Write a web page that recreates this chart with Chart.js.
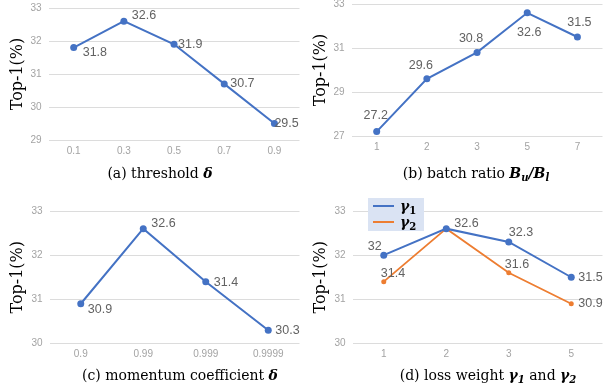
<!DOCTYPE html>
<html><head><meta charset="utf-8">
<script src="https://cdn.jsdelivr.net/npm/chart.js@4"></script>
<style>
html,body{margin:0;padding:0;background:#fff;}
#wrap{position:relative;width:606px;height:385px;overflow:hidden;background:#fff;}
canvas{position:absolute;}
.cap{position:absolute;font-family:"DejaVu Serif";font-size:14px;color:#000;white-space:nowrap;transform:translate(-50%,-50%);line-height:1;}
.m{font-weight:bold;font-style:italic;}
.m sub{font-size:0.72em;vertical-align:-0.3em;line-height:0;}
.legend{position:absolute;left:368px;top:198px;width:56px;height:33px;background:#dae3f3;}
.lrow{position:absolute;left:5px;height:16px;font-family:"DejaVu Serif";font-size:14px;font-weight:bold;font-style:italic;line-height:16px;}
.lrow i{position:absolute;left:0;top:7px;width:21px;height:2px;}
.lrow span{position:absolute;left:27px;top:0;}
.lrow sub{font-size:0.72em;vertical-align:-0.3em;line-height:0;font-style:normal;}
</style></head>
<body><div id="wrap">
<div class="cap" style="left:160px;top:173px">(a) threshold <span class="m">δ</span></div>
<div class="cap" style="left:476px;top:173px">(b) batch ratio <span class="m">B<sub>u</sub>/B<sub>l</sub></span></div>
<div class="cap" style="left:180px;top:375px">(c) momentum coefficient <span class="m">δ</span></div>
<div class="cap" style="left:488px;top:375px">(d) loss weight <span class="m">γ<sub>1</sub></span> and <span class="m">γ<sub>2</sub></span></div>
</div>
<script>
// ---- data ----
const catsA = ['0.1','0.3','0.5','0.7','0.9'];
const valsA = [31.8, 32.6, 31.9, 30.7, 29.5];
const yTicksA = [29, 30, 31, 32, 33];

const catsB = ['1','2','3','5','7'];
const valsB = [27.2, 29.6, 30.8, 32.6, 31.5];
const yTicksB = [27, 29, 31, 33];

const catsC = ['0.9','0.99','0.999','0.9999'];
const valsC = [30.9, 32.6, 31.4, 30.3];
const yTicksC = [30, 31, 32, 33];

const catsD = ['1','2','3','5'];
const valsGamma1 = [32, 32.6, 32.3, 31.5];
const valsGamma2 = [31.4, 32.6, 31.6, 30.9];
const yTicksD = [30, 31, 32, 33];
const seriesNamesD = ['γ1', 'γ2'];
const yTitle = 'Top-1(%)';

// ---- style ----
const BLUE = '#4472C4', ORANGE = '#ED7D31';
const TICK_COLOR = '#a3a3a3';
const wrap = document.getElementById('wrap');

const labelPlugin = {
  id: 'vlabels',
  afterDatasetsDraw(chart) {
    const ctx = chart.ctx;
    chart.data.datasets.forEach((ds, di) => {
      const offs = ds.labelOffsets; if (!offs) return;
      const meta = chart.getDatasetMeta(di);
      ctx.save();
      ctx.font = '12.5px "Liberation Sans"';
      ctx.fillStyle = '#626262';
      ctx.textBaseline = 'middle';
      meta.data.forEach((pt, i) => {
        const o = offs[i]; if (!o) return;
        ctx.textAlign = o[2] || 'left';
        ctx.fillText(String(ds.data[i]), pt.x + o[0], pt.y + o[1]);
      });
      ctx.restore();
    });
  }
};

function lineDs(label, data, color, r, w, offs) {
  return {label, data, borderColor: color, backgroundColor: color, borderWidth: w,
    pointRadius: r, pointHoverRadius: r, pointBorderWidth: 0, tension: 0, fill: false, labelOffsets: offs};
}

function makeChart(cfg) {
  const [bx, by, bw, bh] = cfg.box;
  const [l, t, r, b] = cfg.area;
  const cv = document.createElement('canvas');
  cv.width = bw; cv.height = bh;
  cv.style.left = bx + 'px'; cv.style.top = by + 'px';
  cv.style.width = bw + 'px'; cv.style.height = bh + 'px';
  wrap.insertBefore(cv, wrap.firstChild);
  const yt = cfg.yTicks;
  new Chart(cv, {
    type: 'line',
    data: {labels: cfg.cats, datasets: cfg.datasets},
    options: {
      responsive: false, animation: false, devicePixelRatio: 1,
      layout: {padding: {top: t - by, left: 0, right: bx + bw - r, bottom: 0}},
      plugins: {legend: {display: false}, tooltip: {enabled: false}},
      scales: {
        x: {
          offset: true,
          grid: {display: false, drawTicks: false},
          border: {display: false},
          ticks: {padding: 5, color: TICK_COLOR, font: {family: 'Liberation Sans', size: 10}, maxRotation: 0},
          afterFit(s) { s.height = by + bh - b; }
        },
        y: {
          min: yt[0], max: yt[yt.length - 1],
          afterBuildTicks(s) { s.ticks = yt.map(v => ({value: v})); },
          ticks: {padding: 7, color: TICK_COLOR, font: {family: 'Liberation Sans', size: 10}},
          grid: {color: '#dcdcdc', lineWidth: 1, drawTicks: false},
          border: {display: false},
          title: {display: true, text: yTitle, color: '#000', font: {family: 'DejaVu Serif', size: 16}, padding: {top: 8, bottom: 0}},
          afterFit(s) { s.width = l - bx; }
        }
      }
    },
    plugins: [labelPlugin]
  });
}

makeChart({box: [0, -10, 303, 202], area: [48.6, 8, 302.4, 140], cats: catsA, yTicks: yTicksA,
  datasets: [lineDs('threshold', valsA, BLUE, 3.5, 2, [[9,5],[8,-6],[4,0],[6,0],[0,0]])]});
makeChart({box: [303, -10, 303, 202], area: [351.6, 4, 605.4, 136], cats: catsB, yTicks: yTicksB,
  datasets: [lineDs('batch ratio', valsB, BLUE, 3.5, 2, [[-1,-16,'center'],[-6,-13,'center'],[-6,-14,'center'],[2,20,'center'],[2,-14,'center']])]});
makeChart({box: [0, 182, 303, 203], area: [49.5, 211, 301.5, 343.5], cats: catsC, yTicks: yTicksC,
  datasets: [lineDs('momentum', valsC, BLUE, 3.5, 2, [[7,6],[8,-5],[8,1],[7,0]])]});
makeChart({box: [303, 182, 303, 203], area: [352.5, 211, 604.5, 343.5], cats: catsD, yTicks: yTicksD,
  datasets: [
    lineDs(seriesNamesD[0], valsGamma1, BLUE, 3.5, 2, [[-2,-9,'right'],[8,-5],[0,-9],[7,0]]),
    lineDs(seriesNamesD[1], valsGamma2, ORANGE, 2.5, 1.8, [[-3,-8],null,[-4,-8],[7,0]])
  ]});

// legend for panel (d)
const lg = document.createElement('div');
lg.className = 'legend';
[[BLUE, 0], [ORANGE, 1]].forEach(([c, i]) => {
  const row = document.createElement('div');
  row.className = 'lrow';
  row.style.top = (i ? 16 : 0) + 'px';
  row.innerHTML = '<i style="background:' + c + '"></i><span>γ<sub>' + (i + 1) + '</sub></span>';
  lg.appendChild(row);
});
wrap.appendChild(lg);
</script>
</body></html>
